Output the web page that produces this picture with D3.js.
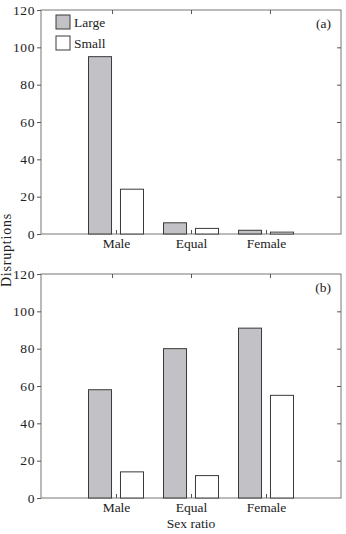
<!DOCTYPE html>
<html>
<head>
<meta charset="utf-8">
<script src="https://cdn.jsdelivr.net/npm/d3@7"></script>
<style>
  body { margin: 0; background: #fff; }
  text { font-family: "Liberation Serif", "DejaVu Serif", serif; fill: #222; }
</style>
</head>
<body>
<div id="chart"></div>
<script>

// data
var categories = ["Male", "Equal", "Female"];
var series = ["Large", "Small"];
var panelA = { Large: [95, 6, 2], Small: [24, 3, 1] };
var panelB = { Large: [58, 80, 91], Small: [14, 12, 55] };
var yTicks = [0, 20, 40, 60, 80, 100, 120];
var panelLabels = ["(a)", "(b)"];

var W = 346, H = 534;
var left = 41, right = 341;
var fills = { Large: "#c2c2c6", Small: "#ffffff" };
var fs = 13.5;

var svg = d3.select("#chart").append("svg")
    .attr("width", W)
    .attr("height", H);

var x = d3.scalePoint().domain(categories).range([left, right]).padding(1);
var xTop = d3.scalePoint().domain(categories).range([left, right]).padding(0.9);
var xIn = d3.scaleBand().domain(series).range([-27.5, 27.5]).paddingInner(0.28);

function drawPanel(top, bottom, data, label, showLegend) {
  var y = d3.scaleLinear().domain([0, 120]).range([bottom, top]);
  var g = svg.append("g");

  // frame
  g.append("rect")
    .attr("x", left).attr("y", top)
    .attr("width", right - left).attr("height", bottom - top)
    .attr("fill", "none").attr("stroke", "#777").attr("stroke-width", 1);

  // left axis
  var ya = g.append("g")
    .attr("transform", "translate(" + left + ",0)")
    .call(d3.axisLeft(y).tickValues(yTicks).tickSize(4).tickPadding(2));
  ya.select(".domain").remove();
  ya.selectAll("line").attr("stroke", "#555");
  ya.selectAll("text").attr("font-size", fs).attr("letter-spacing", "0.6px")
    .attr("font-family", "Liberation Serif, serif").attr("fill", "#222");

  // right axis, inward ticks
  var yr = g.append("g")
    .attr("transform", "translate(" + right + ",0)")
    .call(d3.axisRight(y).tickValues(yTicks.slice(1, -1)).tickSize(-4).tickFormat(""));
  yr.select(".domain").remove();
  yr.selectAll("line").attr("stroke", "#555");

  // top axis ticks
  var xt = g.append("g")
    .attr("transform", "translate(0," + top + ")")
    .call(d3.axisTop(xTop).tickSize(-4).tickFormat(""));
  xt.select(".domain").remove();
  xt.selectAll("line").attr("stroke", "#555");

  // bottom axis
  var xb = g.append("g")
    .attr("transform", "translate(0," + bottom + ")")
    .call(d3.axisBottom(x).tickSize(-4).tickPadding(4));
  xb.select(".domain").remove();
  xb.selectAll("line").attr("stroke", "#555");
  xb.selectAll("text").attr("font-size", fs)
    .attr("font-family", "Liberation Serif, serif").attr("fill", "#222");

  // bars
  series.forEach(function(s) {
    g.selectAll(".bar-" + s)
      .data(data[s])
      .enter()
      .append("rect")
      .attr("x", function(d, i) { return x(categories[i]) + xIn(s); })
      .attr("y", function(d) { return y(d); })
      .attr("width", xIn.bandwidth())
      .attr("height", function(d) { return y(0) - y(d); })
      .attr("fill", fills[s])
      .attr("stroke", "#3a3a3a")
      .attr("stroke-width", 1);
  });

  g.append("text")
    .attr("x", 331).attr("y", top + 18)
    .attr("text-anchor", "end")
    .attr("font-size", fs)
    .text(label);

  if (showLegend) {
    var lg = g.append("g");
    series.forEach(function(s, i) {
      lg.append("rect")
        .attr("x", 56).attr("y", top + 5 + i * 21)
        .attr("width", 14).attr("height", 14)
        .attr("fill", fills[s]).attr("stroke", "#3a3a3a");
      lg.append("text")
        .attr("x", 74).attr("y", top + 17 + i * 21)
        .attr("font-size", fs)
        .text(s);
    });
  }
}

drawPanel(10, 234, panelA, panelLabels[0], true);
drawPanel(274, 498, panelB, panelLabels[1], false);

svg.append("text")
  .attr("transform", "translate(11,250) rotate(-90)")
  .attr("text-anchor", "middle")
  .attr("font-size", 14)
  .attr("letter-spacing", "0.8px")
  .text("Disruptions");

svg.append("text")
  .attr("x", 191).attr("y", 528)
  .attr("text-anchor", "middle")
  .attr("font-size", fs)
  .text("Sex ratio");

</script>
</body>
</html>
